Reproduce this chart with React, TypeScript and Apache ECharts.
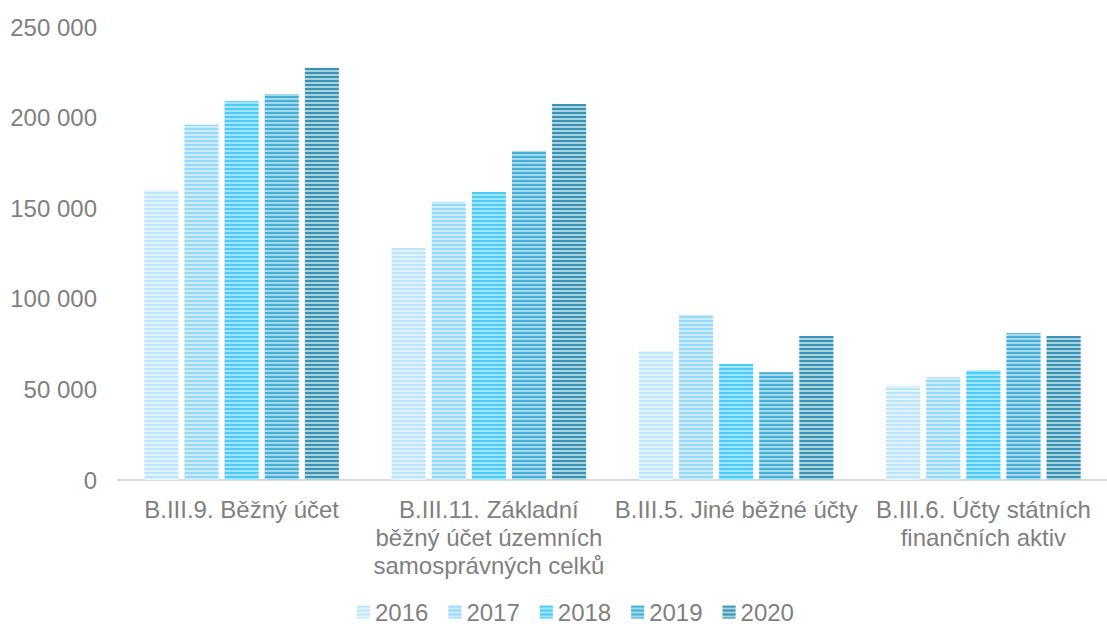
import React, { useEffect, useRef } from "react";
import * as echarts from "echarts";

const categories = [
  "B.III.9. Běžný účet",
  "B.III.11. Základní\nběžný účet územních\nsamosprávných celků",
  "B.III.5. Jiné běžné účty",
  "B.III.6. Účty státních\nfinančních aktiv",
];
const years = ["2016", "2017", "2018", "2019", "2020"];
const v2016 = [160000, 128000, 71000, 52000];
const v2017 = [196000, 153500, 91000, 56500];
const v2018 = [209000, 159000, 64000, 60500];
const v2019 = [213000, 181500, 59500, 81000];
const v2020 = [227500, 207500, 79500, 79500];
const seriesValues = [v2016, v2017, v2018, v2019, v2020];

const lightColors = ["#e2f4fd", "#cbedfc", "#a2e5fb", "#a5d8eb", "#a8d1df"];
const darkColors = ["#bce5fa", "#98d9f7", "#4ccdf6", "#45b0d7", "#3993b3"];

const fmt = (v: number) => String(v).replace(/\B(?=(\d{3})+(?!\d))/g, " ");

export default function App() {
  const ref = useRef<HTMLDivElement>(null);
  useEffect(() => {
    if (!ref.current) return;
    const chart = echarts.init(ref.current, null, { renderer: "svg" });
    const font = "Liberation Sans";
    chart.setOption({
      animation: false,
      grid: { left: 118, width: 998, top: 27, bottom: 144, containLabel: false },
      legend: {
        data: years,
        left: 357,
        top: 600,
        padding: 0,
        itemWidth: 13,
        itemHeight: 13,
        itemGap: 20,
        icon: "rect",
        textStyle: { color: "#7f7f7f", fontSize: 24, fontFamily: font, lineHeight: 20 },
      },
      xAxis: {
        type: "category",
        data: categories,
        axisLine: { lineStyle: { color: "#d9d9d9", width: 2 } },
        axisTick: { show: false },
        axisLabel: {
          color: "#7f7f7f",
          fontSize: 24,
          fontFamily: font,
          lineHeight: 28,
          margin: 15,
          interval: 0,
        },
      },
      yAxis: {
        type: "value",
        min: 0,
        max: 250000,
        interval: 50000,
        splitLine: { show: false },
        axisLine: { show: false },
        axisTick: { show: false },
        axisLabel: {
          color: "#7f7f7f",
          fontSize: 24,
          fontFamily: font,
          margin: 21,
          formatter: (v: number) => fmt(v),
        },
      },
      series: years.map((y, i) => ({
        name: y,
        type: "bar",
        data: seriesValues[i],
        barWidth: 34,
        barGap: "18%",
        itemStyle: {
          color: lightColors[i],
          decal: {
            symbol: "rect",
            symbolSize: 1,
            dashArrayX: [1, 0],
            dashArrayY: [2, 2],
            color: darkColors[i],
            rotation: 0,
          },
        },
      })),
    });
    return () => chart.dispose();
  }, []);
  return (
    <div
      ref={ref}
      style={{ position: "fixed", left: 0, top: 0, width: 1107, height: 624, background: "#fff" }}
    />
  );
}
